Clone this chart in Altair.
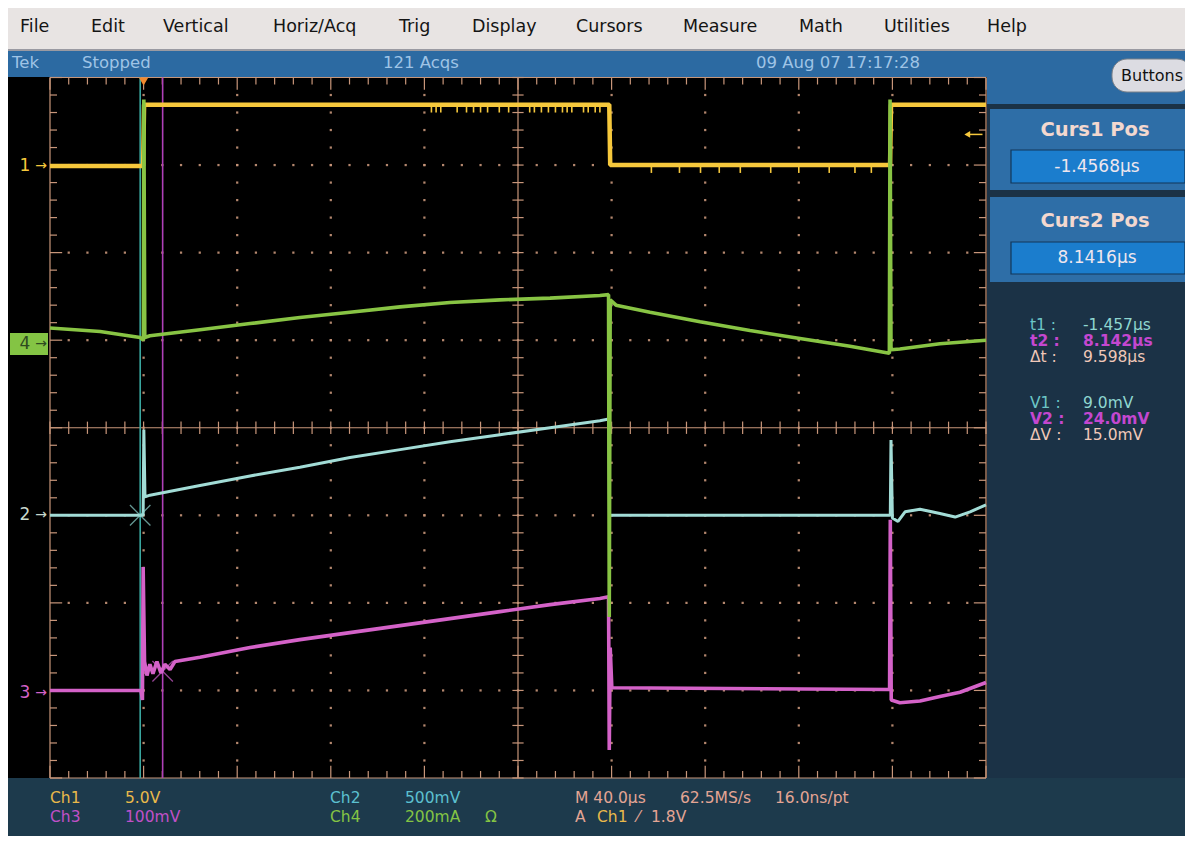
import altair as alt
import pandas as pd
import numpy as np

# ---------------- data (time in µs, vertical in screen divisions) ----------------
ch1_t = [-40, -0.2, 0.2, 199.0, 199.4, 319.0, 319.4, 360]
ch1_v = [2.99, 2.99, 3.69, 3.69, 3.0, 3.0, 3.69, 3.69]
ch1_glitch_hi_t = [123, 125, 127, 134, 138, 141, 144, 147, 152, 156, 165, 167, 170, 173,
                   176, 179, 181, 183, 188, 190, 193, 195]
ch1_glitch_lo_t = [217, 229, 238, 246, 255, 268, 280, 293, 304, 311]

ch4_t = [-40, -18.6, -1.5, -0.1, 0.1, 0.5, 2.7, 24.1, 45.5, 66.8, 88.2, 109.6, 130.9, 152.3,
         173.7, 195.0, 198.7, 199.0, 199.4, 201.9, 216.4, 237.8, 259.1, 280.5, 301.9, 318.7,
         319.0, 319.4, 323.2, 340.3, 360]
ch4_v = [1.14, 1.10, 1.03, 1.00, 3.75, 1.03, 1.05, 1.12, 1.19, 1.26, 1.32, 1.38, 1.43, 1.46,
         1.48, 1.51, 1.52, -2.16, 1.46, 1.40, 1.32, 1.21, 1.11, 1.02, 0.93, 0.85,
         3.75, 0.89, 0.90, 0.96, 1.00]

ch2_t = [-40, -1.1, -0.2, 0.1, 0.6, 2.7, 24.1, 45.5, 66.8, 88.2, 109.6, 130.9, 152.3, 173.7,
         195.0, 198.8, 199.1, 319.1, 319.4, 320.0, 322.4, 325.4, 331.8, 340.3, 346.8, 353.2, 360]
ch2_v = [-1.0, -1.0, -1.0, -0.02, -0.79, -0.77, -0.66, -0.55, -0.45, -0.34, -0.25, -0.16, -0.08,
         0.0, 0.08, 0.10, -1.0, -1.0, -0.14, -1.03, -1.07, -0.96, -0.93, -0.98, -1.02, -0.96, -0.88]

ch3_t = [-40, -1.1, -0.5, -0.2, 0.4, 1.45, 2.7, 4.0, 5.7, 7.4, 9.1, 11.3, 13.4, 24.1, 45.5, 66.8,
         88.2, 109.6, 130.9, 152.3, 173.7, 195.0, 198.7, 199.0, 199.4, 200.1, 318.8, 319.1,
         319.5, 323.2, 331.8, 340.3, 348.9, 360]
ch3_v = [-3.0, -3.0, -3.11, -1.59, -2.67, -2.83, -2.70, -2.81, -2.67, -2.80, -2.70, -2.76, -2.67,
         -2.62, -2.51, -2.42, -2.34, -2.26, -2.18, -2.10, -2.02, -1.95, -1.93, -3.68, -2.51,
         -2.97, -2.99, -1.05, -3.11, -3.14, -3.12, -3.07, -3.02, -2.91]

cursor_t = [-1.457, 8.142]
cursor_marker_v = [-1.0, -2.78]
trigger_level_v = 3.35          # 1.8 V on Ch1 (5 V/div) above its 3-div ground

menu_items = ["File", "Edit", "Vertical", "Horiz/Acq", "Trig", "Display", "Cursors",
              "Measure", "Math", "Utilities", "Help"]
status_items = ["Tek", "Stopped", "121 Acqs", "09 Aug 07 17:17:28"]
curs_titles = ["Curs1 Pos", "Curs2 Pos"]
curs_values = ["-1.4568µs", "8.1416µs"]
readout_labels = ["t1 :", "t2 :", "Δt :", "V1 :", "V2 :", "ΔV :"]
readout_values = ["-1.457µs", "8.142µs", "9.598µs", "9.0mV", "24.0mV", "15.0mV"]

# ---------------- styling ----------------
OX, OY = 8, 8
FONT = "DejaVu Sans"
GRAT = "#c8967a"
C_YEL = "#f6c83c"
C_GRN = "#88c444"
C_CYN = "#a2dcd6"
C_MAG = "#d462c8"
DUMMY = alt.Data(values=[{"k": 0}])

XS = alt.Scale(domain=[-40, 360], range=[50 - OX, 986 - OX], nice=False, zero=False)
YS = alt.Scale(domain=[-4, 4], range=[778 - OY, 77.5 - OY], nice=False, zero=False)

layers = []


def box(x1, y1, x2, y2, fill, stroke=None, sw=0, r=0):
    kw = dict(fill=fill, strokeWidth=sw, cornerRadius=r)
    if stroke:
        kw["stroke"] = stroke
    layers.append(alt.Chart(DUMMY).mark_rect(**kw).encode(
        x=alt.value(x1 - OX), x2=alt.value(x2 - OX),
        y=alt.value(y1 - OY), y2=alt.value(y2 - OY)))


def txt(s, x, y, color, size=15, align="left", weight="normal", font=FONT):
    layers.append(alt.Chart(DUMMY).mark_text(
        text=s, color=color, fontSize=size, align=align, baseline="middle",
        fontWeight=weight, font=font).encode(x=alt.value(x - OX), y=alt.value(y - OY)))


# ---------------- chrome ----------------
box(0, 0, 1200, 50, "#e8e4e3")
box(0, 49, 1200, 51, "#9a9aa2")
box(0, 51, 1200, 77, "#2c6aa2")
box(0, 77, 987, 778, "#000000")
box(987, 77, 1200, 104, "#2c6aa2")
box(987, 104, 1200, 778, "#1b3246")
box(0, 778, 1200, 850, "#1d3a4c")
box(990, 109, 1200, 190, "#2e6ea7")
box(990, 197, 1200, 282, "#2e6ea7")
box(1011, 150, 1185, 183, "#1b7dcd", stroke="#12375a", sw=1.2)
box(1011, 242, 1185, 274, "#1b7dcd", stroke="#12375a", sw=1.2)
box(1112, 59, 1192, 92, "#dcdce2", stroke="#7a8088", sw=1, r=15)

menu_x = [20, 91, 163, 273, 399, 472, 576, 683, 799, 884, 987]
for s, x in zip(menu_items, menu_x):
    txt(s, x, 27, "#141414", size=17.5)

status_x = [12, 82, 383, 756]
for s, x in zip(status_items, status_x):
    txt(s, x, 63, "#9fc4e6", size=16.5)

txt("Buttons", 1152, 76, "#111111", size=16, align="center")
for s, y in zip(curs_titles, [130, 221]):
    txt(s, 1095, y, "#f3d8cf", size=19.5, align="center", weight="bold")
for s, y in zip(curs_values, [167, 258]):
    txt(s, 1097, y, "#eee6ee", size=17, align="center")

lab_col = ["#6cc6c6", "#c447d0", "#f0c8b8", "#6cc6c6", "#c447d0", "#f0c8b8"]
val_col = ["#8fd6d0", "#c447d0", "#f0c8b8", "#8fd6d0", "#c447d0", "#f0c8b8"]
row_y = [325, 341, 357, 403, 419, 435]
for i in range(6):
    w = "bold" if i in (1, 4) else "normal"
    txt(readout_labels[i], 1030, row_y[i], lab_col[i], size=15.5, weight=w)
    txt(readout_values[i], 1083, row_y[i], val_col[i], size=15.5, weight=w)

SAL = "#e4a594"
bottom = [("Ch1", 50, 798, "#e9b94a"), ("5.0V", 125, 798, "#e9b94a"),
          ("Ch3", 50, 817, "#c050c8"), ("100mV", 125, 817, "#c050c8"),
          ("Ch2", 330, 798, "#5cc0d0"), ("500mV", 405, 798, "#5cc0d0"),
          ("Ch4", 330, 817, "#84c444"), ("200mA", 405, 817, "#84c444"), ("Ω", 485, 817, "#84c444"),
          ("M 40.0µs", 575, 798, SAL), ("62.5MS/s", 680, 798, SAL), ("16.0ns/pt", 775, 798, SAL),
          ("A", 575, 817, SAL), ("Ch1", 597, 817, "#e9b94a"), ("⁄", 637, 817, SAL),
          ("1.8V", 651, 817, SAL)]
for s, x, y, c in bottom:
    txt(s, x, y, c, size=15.5)

# ---------------- graticule ----------------
rows = []
minor_t = np.arange(-40, 360.01, 8.0)
minor_v = np.arange(-4, 4.001, 0.2)
for t in minor_t:
    major = abs(((t + 40) / 40) - round((t + 40) / 40)) < 1e-6
    L = 0.14 if major else 0.08
    rows += [(t, t, 4, 4 - L), (t, t, -4, -4 + L), (t, t, -0.07, 0.07)]
for v in minor_v:
    major = abs(v - round(v)) < 1e-6
    L = 5.2 if major else 3.0
    rows += [(-40, -40 + L, v, v), (360, 360 - L, v, v), (157.6, 162.4, v, v)]
rows += [(-40, 360, 4, 4), (-40, 360, -4, -4), (-40, -40, -4, 4), (360, 360, -4, 4),
         (-40, 360, 0, 0), (160, 160, -4, 4)]
grat = pd.DataFrame(rows, columns=["t", "t2", "v", "v2"])
layers.append(alt.Chart(grat).mark_rule(color=GRAT, strokeWidth=1.2).encode(
    x=alt.X("t:Q", scale=XS, axis=None), x2="t2:Q",
    y=alt.Y("v:Q", scale=YS, axis=None), y2="v2:Q"))

dots = []
for k in range(1, 10):
    if k == 5:
        continue
    t = -40 + 40 * k
    for v in minor_v[1:-1]:
        dots.append((t, v))
for v in range(-3, 4):
    if v == 0:
        continue
    for t in minor_t[1:-1]:
        dots.append((t, v))
dots = pd.DataFrame(dots, columns=["t", "v"])
layers.append(alt.Chart(dots).mark_square(size=5, color=GRAT, opacity=0.9).encode(
    x=alt.X("t:Q", scale=XS, axis=None), y=alt.Y("v:Q", scale=YS, axis=None)))

# ---------------- cursors ----------------
cur = pd.DataFrame({"t": cursor_t, "v": [-4, -4], "v2": [4, 4], "c": ["#3aa8a0", "#b040b8"]})
layers.append(alt.Chart(cur).mark_rule(strokeWidth=1.6).encode(
    x=alt.X("t:Q", scale=XS, axis=None), y=alt.Y("v:Q", scale=YS, axis=None), y2="v2:Q",
    color=alt.Color("c:N", scale=None)))


# ---------------- traces ----------------
def trace(t, v, color, w):
    df = pd.DataFrame({"t": t, "v": v, "i": range(len(t))})
    return alt.Chart(df).mark_line(color=color, strokeWidth=w, strokeJoin="bevel").encode(
        x=alt.X("t:Q", scale=XS, axis=None), y=alt.Y("v:Q", scale=YS, axis=None), order="i:Q")


layers.append(trace(ch1_t, ch1_v, C_YEL, 4.5))
gl = pd.DataFrame({"t": ch1_glitch_hi_t + ch1_glitch_lo_t,
                   "v": [3.69] * len(ch1_glitch_hi_t) + [3.0] * len(ch1_glitch_lo_t)})
gl["v2"] = gl["v"] - 0.09
layers.append(alt.Chart(gl).mark_rule(color=C_YEL, strokeWidth=1.6).encode(
    x=alt.X("t:Q", scale=XS, axis=None), y=alt.Y("v:Q", scale=YS, axis=None), y2="v2:Q"))
layers.append(trace(ch3_t, ch3_v, C_MAG, 3.6))
layers.append(trace(ch2_t, ch2_v, C_CYN, 3.0))
layers.append(trace(ch4_t, ch4_v, C_GRN, 3.6))

# cursor X markers
xm = pd.DataFrame({"t": cursor_t, "v": cursor_marker_v, "c": ["#8fd6d0", "#d060d0"]})
layers.append(alt.Chart(xm).mark_point(shape="M-1,-1L1,1M-1,1L1,-1", size=420, filled=False,
                                       strokeWidth=1.3).encode(
    x=alt.X("t:Q", scale=XS, axis=None), y=alt.Y("v:Q", scale=YS, axis=None),
    stroke=alt.Stroke("c:N", scale=None)))

# trigger position marker (top) and trigger level marker (right)
tp = pd.DataFrame({"t": [0.0], "v": [4.0]})
layers.append(alt.Chart(tp).mark_point(shape="triangle-down", size=90, filled=True,
                                       color="#f08a30", opacity=1, yOffset=4).encode(
    x=alt.X("t:Q", scale=XS, axis=None), y=alt.Y("v:Q", scale=YS, axis=None)))
tl = pd.DataFrame({"t": [352.0], "t2": [358.5], "v": [trigger_level_v]})
layers.append(alt.Chart(tl).mark_rule(color=C_YEL, strokeWidth=1.5).encode(
    x=alt.X("t:Q", scale=XS, axis=None), x2="t2:Q", y=alt.Y("v:Q", scale=YS, axis=None)))
layers.append(alt.Chart(tl).mark_point(shape="triangle-left", size=45, filled=True,
                                       color=C_YEL, opacity=1).encode(
    x=alt.X("t:Q", scale=XS, axis=None), y=alt.Y("v:Q", scale=YS, axis=None)))

# channel ground markers at left
box(10, 333, 48, 355, "#84c444")
gm = pd.DataFrame({"lab": ["1", "4", "2", "3"], "v": [2.99, 0.96, -1.0, -3.03],
                   "c": [C_YEL, "#2d4a20", "#c8d8cc", C_MAG]})
layers.append(alt.Chart(gm).mark_text(fontSize=17, font=FONT, align="center", baseline="middle").encode(
    x=alt.value(25 - OX), y=alt.Y("v:Q", scale=YS, axis=None), text="lab:N",
    color=alt.Color("c:N", scale=None)))
layers.append(alt.Chart(gm).mark_text(text="→", fontSize=14, font=FONT, align="center",
                                      baseline="middle").encode(
    x=alt.value(41 - OX), y=alt.Y("v:Q", scale=YS, axis=None),
    color=alt.Color("c:N", scale=None)))

chart = alt.layer(*layers).properties(
    width=1177, height=828, padding=0, autosize="none", background="white"
).configure_view(strokeWidth=0)

chart.save("out.html", embed_options={"renderer": "svg", "actions": False})
